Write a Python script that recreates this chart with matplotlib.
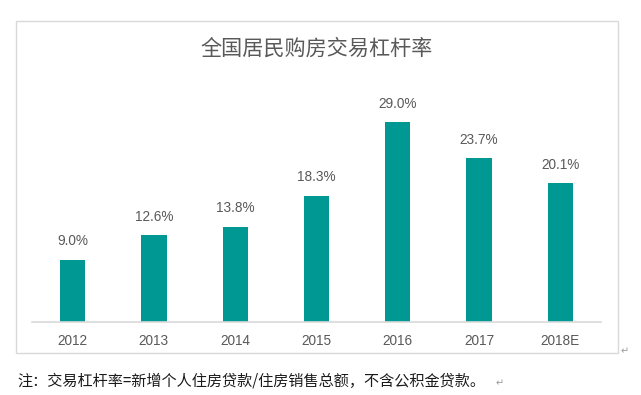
import matplotlib
matplotlib.use("Agg")
import matplotlib.pyplot as plt
from matplotlib.patches import Rectangle

# chart data
years = ["2012", "2013", "2014", "2015", "2016", "2017", "2018E"]
leverage = [9.0, 12.6, 13.8, 18.3, 29.0, 23.7, 20.1]

title = "全国居民购房交易杠杆率"
note = "注：交易杠杆率=新增个人住房贷款/住房销售总额，不含公积金贷款。"

bar_color = "#009893"
grey_text = "#595959"
cjk = ["Noto Sans CJK SC", "DejaVu Sans"]
latin = ["Liberation Sans", "DejaVu Sans"]

W, H = 641, 395
fig = plt.figure(figsize=(W / 100, H / 100), dpi=100)

# chart frame
fig.patches.append(Rectangle((16 / W, 1 - 353 / H), (618 - 16) / W, (353 - 21) / H,
                             transform=fig.transFigure, fill=False,
                             edgecolor="#D9D9D9", linewidth=1.0))

# axes placed to match the plot area of the reference
ax = fig.add_axes([32 / W, 1 - 321.5 / H, (601 - 32) / W, 240.8 / H])
x = range(len(years))
bars = ax.bar(x, leverage, width=0.31, color=bar_color)
ax.set_ylim(0, 35)
ax.set_xlim(-0.5, len(years) - 0.5)

for rect, v in zip(bars, leverage):
    ax.annotate(f"{v:.1f}%", (rect.get_x() + rect.get_width() / 2, v),
                xytext=(0, 8), textcoords="offset points",
                ha="center", va="bottom", fontsize=9.8,
                color=grey_text, family=latin)

ax.set_xticks(list(x))
ax.set_xticklabels(years, fontsize=9.8, color=grey_text, family=latin)
ax.tick_params(axis="x", length=0, pad=9)
ax.set_yticks([])
for side in ["left", "right", "top"]:
    ax.spines[side].set_visible(False)
ax.spines["bottom"].set_color("#D9D9D9")
ax.spines["bottom"].set_linewidth(1.2)

fig.text(316.7 / W, 1 - 49 / H, title, ha="center", va="center",
         fontsize=15.2, color=grey_text, family=cjk)

fig.text(17 / W, 1 - 381 / H, note, ha="left", va="center",
         fontsize=10.9, color="#1a1a1a", family=cjk)

# paragraph marks
fig.text(625 / W, 1 - 351 / H, "↵", ha="center", va="center",
         fontsize=7, color="#9a9a9a", family=["DejaVu Sans"])
fig.text(500 / W, 1 - 383 / H, "↵", ha="center", va="center",
         fontsize=7, color="#9a9a9a", family=["DejaVu Sans"])

fig.savefig("out.png", dpi=100)
